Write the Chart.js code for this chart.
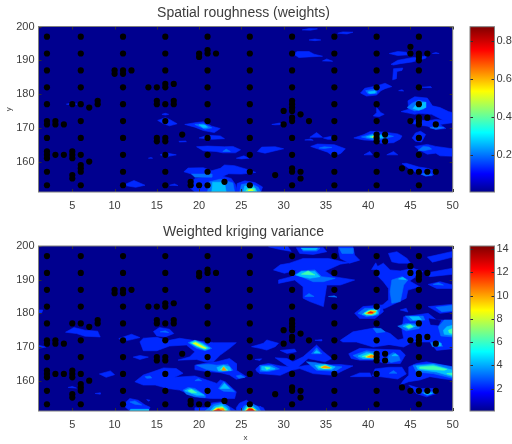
<!DOCTYPE html>
<html><head><meta charset="utf-8">
<script src="https://cdn.jsdelivr.net/npm/chart.js@4"></script>
<style>
html,body{margin:0;padding:0;background:#fff;width:512px;height:444px;overflow:hidden}
.box{position:absolute}
</style></head><body>
<div class="box" style="left:0;top:0;width:487px;height:222px"><canvas id="c1"></canvas></div>
<div class="box" style="left:460px;top:0;width:52px;height:222px"><canvas id="c2"></canvas></div>
<div class="box" style="left:0;top:222px;width:487px;height:222px"><canvas id="c3"></canvas></div>
<div class="box" style="left:460px;top:222px;width:52px;height:222px"><canvas id="c4"></canvas></div>
<script>
// sample sites as [x, y, y, y ...]
const sites=[
[2,197,192,187,182,177,172,171,167,163,162,161,157,153],[3,172,171,162],[4,171,162],
[5,177,163,162,161,156,155],[6,197,192,187,182,177,172,167,162,159,158,157,153],[7,176,160],[8,178,177],
[10,187,186],[11,197,192,187,186,182,177,172,167,162,157,153],[12,187],[14,182],[15,182,178,177,167,166],
[16,197,192,187,183,182,177,172,167,166,162,157,153],[17,183,178,177],[18,168],[19,154,153],[20,192,191,153],
[21,197,193,192,187,182,177,172,167,162,157,153],[22,192],[23,154],[26,197,192,187,182,177,172,167,162,157,153],
[29,156],[30,175,171],[31,197,192,187,182,178,177,176,175,173,172,167,162,158,157,153],[32,174,157,155],[33,172],
[36,197,192,187,182,177,172,167,162,157,153],[41,197,192,187,182,177,172,168,167,166,162,157,153],[42,168,166],
[44,158],[45,194,192,172,157],[46,197,192,191,190,187,182,177,173,172,171,167,162,157,153],[47,192,173,157],[48,171,157]];

// Contour regions of the weights field, one list per level, each region x,y,x,y...
const rough1=[
[4.3,177,5,177.4,5.6,177,5,176.7],[15.1,172.2,16,173,16.5,172.5,17.4,171.2,16.5,170.6,15.8,171.2],[15.6,174,16,174.3,16.4,174,16,173.8],
[18.3,171,19.5,171.5,20.5,171.8,21.5,170.5,22.5,169.8,21.8,168.6,20.5,169.2,19.5,170.2],
[20,167,21,167.8,22.5,167.6,23,166.8,21.5,166.6],[17.6,166,18.4,166.1,18.5,165.9,17.7,165.8],
[19.7,164.4,21,164.6,23,164.4,24,164.5,24.9,163.5,24.3,162.6,22.8,162.6,22,163,20.5,163.2],
[15.4,162,16,162.6,17.3,162,16,161.4],[14,161,14.3,161.2,14.5,161],[24.4,161,25.3,161.7,25.9,161,25,160.8],
[18.2,157,18.7,158.1,20.5,158.2,21.5,157.3,22.5,158,23,159,24.2,158.8,25.8,157.6,26.7,156.8,25,156.3,23.5,156.4,22.8,155.7,23.8,155,24.3,153.2,24.5,151,19.5,151,18.8,152.5,19.5,155,21,155.5,19.5,156],
[24.4,151,24.5,153.5,25.4,154.3,26.6,153.8,27.5,152.5,27.3,151],[11,153,12.3,154.4,13.6,153,12.5,152.4],[16.5,153,17.1,153.4,17.5,152.9],
[32.2,199,33,199.4,34,199.3,33.2,198.9],[36.4,198,37,198.4,38.2,198.3,37.5,197.8],[33,196,33.7,196.3,34.4,196,33.7,195.8],
[31.2,191.8,31.6,192.6,33,192.6,33.6,191.8,34.6,191.2,33,191,31.8,190.8],[34.6,189.8,35.1,190.4,35.8,189.7],
[42.5,192,43.5,192.6,44.5,192.4,44.7,191.6,43.5,191.4],[42.7,188.8,43.5,190,45,190.7,46.6,191.2,47,191.6,46.8,190.6,45.2,189.5,43.8,189,43,188.6],
[47.6,192,48,192.3,48.4,192],[42.9,184.2,43,187.5,44.1,187.7,44,187,43.4,186.7,43.3,184.5],
[39.1,180.3,39.6,181.7,41,182.4,42,183.2,42.8,182.2,42,181.6,41.5,181,41,179.7,39.8,179.4],[43.6,181,44,181.3,44.2,180.9],[46.3,182,47.4,182.2,47.5,181.9],
[43.9,174.8,44.8,175.5,44.7,178,45.5,179.2,47,178.8,47.6,176.5,48.5,176,49.5,174.8,50,174.5,50,172,49,172,48.7,172.5,47.5,174,46,174.3,45.5,174],
[44.9,171.5,45.7,172.5,47,172,48,172.5,50,172,50,171.5,48.5,171,49.2,169.8,48,169.5,47,170.5,46,170.8],
[41,176,41.5,174.5,41.9,174,41.3,173.3,40.6,173.5,41,174.5],[28.6,171,29.5,171.4,30,171,29,170.9],[33.1,167.2,33.9,168.6,34.6,167.2],[32.5,166.4,33.2,166.7,33.5,166.3],
[34.7,167,35.5,167.4,36.2,167.3,36.2,166.6,35.2,166.6],[38.3,167,39.5,168,40.3,169,42,168.7,43.5,168.2,44,167.6,43.8,166.7,43,165.6,41.5,165.4,41,166.2,39.5,166.4],
[26.9,163,27.4,164.3,29,164.4,30,163.8,29,163.2,27.8,162.5],[33.2,164.5,34,165.2,36,165,37.3,163.8,36.8,162.5,35.9,161.5,35.2,162.8,34,163.8],
[39.5,162,40.2,163,40.5,162],[42.2,162,43,163,43.5,162],[45.5,164.5,47,165.1,48,164.5,50,163.8,50,161.6,48.5,161.7,48,162.5,47,162.2,46,163.5],
[44,159.4,44.5,159.5,46,158.4,47,158,48.2,157,47.5,155.8,46.8,155.7,45.5,157,44.8,158],[45.2,167,45.6,168.5,46.2,169,46.8,168,46.3,165.8,45.6,166]];
const rough2=[
[19.5,171,20.5,171.2,21.5,170,20.7,169.6],[22.8,163,23.2,163.7,23.7,163],[19.1,156.3,21.5,156.3,21.5,155.4,19.5,155.4],
[21,151,21.2,154,22.5,154.8,24,153.7,24.2,151],[24.8,151,25,153.2,26,153.7,27,152.4,27.3,151],
[39.7,181,40.3,181.3,41,181.3,41,180.2,40,180],[44.6,176,45.2,177.3,46,178.2,46.8,177.5,46.6,175.6,45.5,175],[47.3,170,48,170.5,49,170,48,169.6],
[39.2,167.3,40.5,168.2,42,168,43,167.5,41.5,166.6,40.5,166.5],[34.2,164,34.8,164.4,35.7,164.2,34.8,163.9],[45.9,163.3,46.5,164.5,47.2,164.3,47.5,163.7,46.7,163.3],[46.3,156.3,47,156.7,47.6,156,46.8,155.8]];
const rough3=[
[20,170.9,20.7,170.8,21,170.2,20.5,170],[21.5,151,21.6,153.9,23,153.9,23.2,151],[25.2,151,25.4,152.8,26.4,152.9,26.8,151.4,26.8,151],
[40,180.6,40.8,180.9,40.8,180.3,40.2,180.2],[45.3,175.7,45.8,177.3,46.8,177.6,46.8,176,46,175.2],[39.8,167.3,40.5,167.9,41.5,167.8,42.2,167.3,41,166.8]];
const rough4=[[25.5,151.2,25.8,152.1,26.5,152.1,26.6,151.3],[40.2,167.3,40.8,167.7,41.3,167.5,41,166.9]];
const rough5=[[25.8,151.4,26.1,151.8,26.4,151.5],[40.5,167.3,41,167.6,41.2,167.1]];
const rough6=[[40.6,167.3,41,167.5,41.3,167.1,41,166.8]];
const rough7=[];

// Contour regions of the kriging variance field
const krig1=[
[1,181,1.5,181,1.4,180.2,1,180],[1,170.5,1.9,170,1,169.6],[4.2,174.4,5.2,175.8,6.5,175,8,174.7,8.3,173,6.5,173.2,5.5,174],
[10.5,172.5,12,173.8,13,172.8,12,172.2,11,171.7],[12.2,167,13,167.5,14,167,13,166.3],[8.2,162,9.5,162.9,10,161.8,9,161],[4.5,158,5,158.3,5.5,157.8],[7.7,156.2,8.3,156.4,8.3,156],
[14.6,174.6,15.3,175.8,16.5,175.3,17,174,16,173,15,173.3],
[13,171.6,13.4,172.6,15,172.9,16.3,171.9,17.7,172.6,19.5,171.9,21.7,171.3,24.4,171.3,23.6,169.6,22.5,167.6,21.7,165.6,20.7,165.6,19.7,166.3,17.5,166.1,18.9,167.1,19.5,168.6,18.5,170.6,16.5,170.3,15,168.9,13.4,168.9],
[19.5,164.6,20.9,165.3,22.1,165.6,23.6,166.6,24.4,165.1,24.4,163.1,25.6,161.2,24.4,160.4,23.6,161.7,22.5,162.4,20.9,162.7,19.5,163.3],
[12.4,159.7,13.4,161.7,14.6,162.7,15.8,163.8,17.3,163.6,18.1,162.2,17.1,161,19.5,161.4,20.3,160.7,22.1,159.2,22.5,160.2,23.1,159.7,24.4,156.7,24.2,154.7,21.5,154.7,20.1,155,19.1,155.7,17.7,157.2,16.3,157.7,14.8,158.7,13.4,158.7],
[11,152.8,11.8,154.7,12.8,154.2,13.6,152.8,14.2,152.1,14,151,11.8,151],[13.8,154.4,14.2,154.2,14,153.9],
[19.5,152,20.7,152,21.5,153.4,22.5,153.7,23.2,152.8,23.8,152,24.4,151,19.5,151],[24.4,152,24.8,153.4,25.6,154.2,26.4,152.8,27.6,152,27.8,151,24.4,151],
[26.2,170.1,27.6,171.1,28,172.1,29.4,171.1,29,170.1,28,169.1,27.2,169.6],[26.6,166.3,27.4,166.5,27.2,166],[29.6,169,31.3,169.4,31.5,168.6,30.4,168.1],
[27.2,164.6,28.2,165.1,29.6,164.4,30.6,164.1,29,166.8,30.4,166.6,31.1,165.6,32.3,167.1,33.9,170.6,34.7,168.6,35.7,166.6,34.9,165.6,33.9,166.1,32.9,166.6,31.7,164.1,32.7,164.6,36.7,164.8,38.2,164.4,37.1,163.1,35.9,161.6,33.5,162.1,31.9,163.6,30.9,163.1,29.6,161.6,27.2,162.1],
[26.7,163.5,27.2,164.6,27.2,162.1,26.8,162.8],[37.9,161.2,39,162.3,40.2,162.3,40.4,161.2],
[36.7,172,38.2,174.5,40.8,175.7,42.6,174,43.8,171.5,42.2,170.6,40.6,170,38.6,171.5,37,171.5],
[37.7,168,39,169.6,40.6,169.4,43.8,169.1,44.4,167.6,43.8,165.1,42,165.1,40.8,166.1,39,166.1,38,166.6],
[40.8,163.5,42.5,164,44,164,44.5,162,43.5,160.5,42,161,40.5,161.5],
[44.8,164.1,45.7,165.1,46.9,165.6,50,164.1,50,160.2,48.5,160.7,47.3,161.2,46.1,160.2,44.8,159.7,43.8,158.7,44.2,160.2,44.8,161.6],
[44.8,158.7,46.1,157.7,47.7,157.7,48.1,156.2,46.9,155.2,45.7,156.2],[27.2,152.5,27.8,151,27.2,151],
[28.2,199.8,30.5,199.8,30.9,198.4,29.5,199],[31.5,199.5,34.7,199.5,35.1,198.3,33.5,197.5,31.9,197.8],[36.5,199.8,38.2,199.8,38.4,197.3,39,195.8,37.8,194.9,36.7,196.3,36.5,198.3],
[28.8,192.9,29.6,194.4,30.7,194.9,32.3,196.3,35.3,196.3,37,195.3,38,195.1,36.7,194.6,36.1,193.9,34.9,192.6,35.9,190.9,38.4,189.9,36.7,188.4,35.1,188.4,34.7,182,33.1,183.5,32.3,184.5,32.3,187.9,31.3,189.9,29.4,188.9,29.4,189.9,30.9,190.9,31.5,192.9,30.1,191.9],
[42.4,197.8,43.4,198.3,44.6,196.3,45,194.9,43.6,194.9,42.8,195.3],
[41.1,193.9,41.8,194.9,42.6,192.9,43.8,192.6,45.3,193.4,46.5,192.4,44.9,189.6,46.1,187.9,44.7,186.9,44.5,184.5,43,182.7,42,181.5,40.8,181,41.8,182.7,42.4,184,42.4,187.4,41.8,189.4,41,191.4],
[47,196.7,50,198.4,50,196.7,47.6,195.2],[46.7,191.9,50,193.4,50,191.6,47.3,190.9],[47.1,188.6,48.5,189.4,50,188.4,50,187.4,48.1,187.4],[47.1,182,50,182.7,50,180.5,48.5,180],
[38.4,180,39.4,182,41.6,182.5,41.8,180.5,40.8,178.5,39,178.5],[43.8,181,44.5,181.5,44.7,180.4],
[41.8,171,44.2,172.5,44,175,44.2,179,47.1,180,48.1,178,50,178,50,169.5,48.1,169,47.3,171.5,45.3,171.5,44.2,170],
[40.4,193,40.9,195,41.3,193],[33.7,172,34.5,172.2,34.5,171.8]];
const krig2=[
[15.4,174.5,16,174.8,16.4,174.3],[18.7,171.3,19.5,172,20.5,171.3,21.5,169.6,20.7,168.9,19.7,169.6],
[19.7,164.6,21.1,164.9,22.1,164.6,23.4,164.9,24,163.1,22.5,162.6,20.9,163.3],[24.4,161.4,24.9,161.7,25.4,161,24.7,160.7],[19.5,160,19.9,160.6,20.3,160],
[18.1,157.2,18.7,158,19.5,157.7,20.7,155.7,20.7,155,19.5,155.2,18.5,156],[22.3,157.7,22.9,159.7,23.8,157.7,24.2,156.7,22.9,156.9],[13.6,161.2,14.2,161.4,14.4,160.8,13.8,160.7],
[11.8,153.7,12.4,154,13.2,152.8,12.4,153],[20.7,151,21.7,153,22.7,153.5,23.5,152.3,23.7,151],[25,151,25.3,152.5,26.2,153.3,27,152.2,27.3,151],
[27.2,164.5,28.6,164.6,29.5,163.5,28.2,162.7,27.2,162.8],[33.3,168,33.9,169.8,34.5,168],[32.7,165.6,33.7,165.4,35.9,164.4,36.9,164.1,36.1,162.8,33.9,163.1],
[40.6,175.5,41.5,175.5,42,174.5,41,174.2],[38.2,167.5,39.8,168.9,41,168.5,41,166.3,39,166.4],[42.4,167.5,43,168.4,43.6,167.5,43.8,166,42.7,165.4,42.3,166],
[42.5,162.2,43,163,43.4,162.2],[45.3,164.6,47.7,165.1,50,164.1,50,160.7,47.7,162.1,45.7,162.6],[46.3,156.5,47,157,47.9,156.5,47,155.6],
[32.1,199.3,34.3,199.3,33.9,198.5,32.3,198.5],[36.6,199.3,38.2,199.3,38.2,197.8,36.9,197.8],
[31.3,191.4,32.1,192.6,33.7,192.9,34.5,190.9,36.1,190.4,34.7,189.4,33.5,189.4,32.1,190.9],[32.5,185,33,185.9,33.6,185],[35.3,185,36,185.2,36.3,184.8],
[42.8,189.9,44,190.9,44.7,189.9,44.2,188.4,43.8,183.5,42.8,183,42.6,186.4],[47.7,188.6,48.3,189.1,48.9,188.4],[48,181.8,50,182.4,50,180.8,48.7,180.5],
[38.8,180,39.6,181.5,41.4,181.5,41.2,179.5,39.8,179],[44.4,179.2,46.5,179.2,46.7,178,45,177.7],[43.5,176.2,44.5,177,46,176.8,46,175.5,44.5,174.8],
[48.3,176,49,178,50,178,50,173,48.6,173.3],[47.4,171.3,48.5,171.5,48.8,170.2,47.6,170.1]];
const krig3=[
[18.9,171.3,19.5,171.9,20.3,171.1,21.3,169.6,20.7,169.1,19.7,170.1],[22.1,163.9,22.9,164.6,23.6,164.1,23.8,163,22.3,162.9],[18.3,157,18.9,157.7,19.7,157,20.6,155.7,19.7,155.7],
[22.5,157.7,23,159.2,23.6,157.7],[11.9,151.5,14,151.5,14,151,11.8,151],[21.3,151,21.8,152.4,22.7,153,23.3,152,23.5,151],[25.2,151,25.6,152.6,26.4,152.4,27,151],
[27.4,164.2,28.3,164.3,29,163.5,28,163,27.4,163.2],[33.6,168.2,33.9,169,34.3,168.2],[33.7,164.6,34.9,164.9,36.1,164.1,35.7,163.3,34.1,163.4],
[38.8,167.3,39.8,168.4,40.8,168,40.8,166.6,39.4,166.6],[42.8,167.4,43.2,168,43.5,167.4],[45.7,164.4,47.7,164.8,50,163.1,50,161.2,48.1,162.6,45.9,163.3],[46.6,156.3,47.1,156.6,47.6,156.2,47,155.9],
[32.1,199.3,34,199.3,33.8,198.9,32.4,198.9],[31.5,191.4,32.1,192.4,33.7,192.4,34.3,190.9,33.1,190.4,32.1,190.9],[43.6,190.2,44.1,190.7,44.5,190],
[39.3,179.7,40,181,41,181.2,41.2,180,40.5,179.3],[44.9,179,46,179,46.3,178.2,45.3,178],[44.1,176.2,44.8,176.8,45.6,176.2,44.8,175.3],[48.9,175,49.3,176,50,176.5,50,173.5,49,173.8],[47.6,171,48.5,171.2,48.6,170.4,47.8,170.3]];
const krig4=[
[19.1,171.2,19.6,171.6,20.2,170.9,21,169.7,20.6,169.4,19.7,170.3],[22.5,163.3,22.9,164.3,23.4,163.1],[18.7,157,19.1,157.4,19.7,156.4,19.1,156.4],[32.1,191.6,32.9,192.6,33.7,191.4],
[21.5,151,22,152,22.7,152.4,23.2,151.5,23.3,151],[25.4,151,25.7,152.2,26.3,152,26.8,151],[27.8,164,28.4,163.8,28,163.3],[34.1,164.1,34.9,164.6,35.7,163.8,34.7,163.6],
[39.3,167.2,40.2,168,40.8,167.4,40.4,166.9],[46.1,164.1,47.7,164.4,49.3,163.4,49,163.1,47.3,163.3,46.1,163.6],[49.3,162.1,50,162.3,50,161.6],
[39.5,180,40.2,180.9,41,181,40.9,179.8,39.8,179.5],[44.5,176.1,45,176.6,45.3,176,44.8,175.6],[49.5,175,50,175.5,50,174,49.6,174.2]];
const krig5=[[19.3,171.1,19.6,171.3,20.1,170.6,20.8,169.6,20.3,169.9],[21.6,151,22,151.8,22.8,152,23.1,151],[25.5,151,25.8,151.9,26.3,151.9,26.7,151.2],[34.4,164,34.9,164.4,35.5,163.8,34.8,163.7],[39.7,167,40.3,167.7,40.9,167.3,40.4,166.9],[39.7,180,40.3,180.8,40.9,180.6,40.4,179.7]];
const krig6=[[22.7,163.1,22.9,164.1,23.2,163.1],[21.7,151,22.2,151.7,22.9,151.7,23,151],[25.6,151,25.9,151.8,26.3,151.7,26.6,151],[34.5,163.9,34.9,164.4,35.5,163.8],[39.9,167,40.4,167.6,41,167.2,40.5,166.8],[39.8,180,40.3,180.7,40.9,180.5,40.4,179.8]];
const krig7=[[21.8,151,22.3,151.5,22.7,151],[25.6,151,25.9,151.7,26.3,151.6,26.5,151],[40,180.1,40.3,180.5,40.6,180.1]];
// Low pocket inside the upper right variance region
const krigLow=[[47.2,178.4,48.6,177.9,48.3,176.5,47.4,176.7]];

const xTicksStep=5, yTicksStep=10;
const weightsRange=[0.002,0.878], varianceRange=[0.08,14.26];
const levelColors=['#00008f','#0028ff','#0070ff','#00c0ff','#40ffb0','#f0ff10','#ff9000','#f01000'];
const jetStops=[[0,'#00008f'],[0.11,'#0000ff'],[0.36,'#00ffff'],[0.61,'#ffff00'],[0.86,'#ff0000'],[1,'#800000']];
const textColor='#3c3c3c', frameColor='#7f7f7f', tickColor='#303030';

Chart.defaults.font.family='"Liberation Sans",Arial,sans-serif';
Chart.defaults.color=textColor;

const framePlugin={id:'frame',
 beforeDraw(c,a,o){if(!o.fill)return;const k=c.chartArea,g=c.ctx;g.save();g.fillStyle=o.fill;g.fillRect(k.left,k.top,k.width,k.height);g.restore();},
 afterDraw(c){const k=c.chartArea,g=c.ctx;g.save();g.strokeStyle=tickColor;g.lineWidth=1;g.beginPath();
  const L=3;
  if(c.scales.x.type==='linear')c.scales.x.ticks.forEach(t=>{const p=Math.round(c.scales.x.getPixelForValue(t.value))+.5;g.moveTo(p,k.bottom);g.lineTo(p,k.bottom-L);g.moveTo(p,k.top);g.lineTo(p,k.top+L);});
  c.scales.y.ticks.forEach(t=>{const p=Math.round(c.scales.y.getPixelForValue(t.value))+.5;g.moveTo(k.left,p);g.lineTo(k.left+L,p);g.moveTo(k.right,p);g.lineTo(k.right-L,p);});
  g.stroke();g.strokeStyle=frameColor;g.strokeRect(k.left,k.top,k.width,k.height);g.restore();}};

function region(flat,color,order){const pts=[];for(let i=0;i<flat.length;i+=2)pts.push({x:flat[i],y:flat[i+1]});pts.push({x:flat[0],y:flat[1]});
 return {type:'scatter',data:pts,showLine:true,fill:'shape',backgroundColor:color,borderColor:color,borderWidth:0.6,pointRadius:0,tension:0,order};}

function dotData(){const d=[];sites.forEach(s=>s.slice(1).forEach(y=>d.push({x:s[0],y})));return d;}

function field(id,layers,title,opts){
 const ds=[];let ord=1000;
 layers.forEach(([list,color])=>list.forEach(f=>ds.push(region(f,color,ord--))));
 ds.push({type:'scatter',data:dotData(),pointRadius:3.1,pointBackgroundColor:'#000',pointBorderWidth:0,showLine:false,order:0});
 new Chart(document.getElementById(id),{type:'scatter',data:{datasets:ds},plugins:[framePlugin],options:{
  responsive:true,maintainAspectRatio:false,animation:false,events:[],
  layout:{padding:0},
  plugins:{legend:{display:false},tooltip:{enabled:false},frame:{fill:levelColors[0]},
   title:{display:true,text:title,color:textColor,font:{size:14,weight:'normal',lineHeight:1.2},padding:{top:opts.tTop,bottom:opts.tBottom}}},
  scales:{
   x:{type:'linear',min:1,max:50,grid:{display:false,drawTicks:false},border:{display:false},
     ticks:{stepSize:xTicksStep,includeBounds:false,maxRotation:0,autoSkip:false,padding:7,font:{size:11},color:textColor},
     title:{display:!!opts.xLabel,text:opts.xLabel||'',font:{size:8},color:textColor,padding:{top:4,bottom:1}},
     afterFit(s){s.height=opts.bottom;s.paddingLeft=0;s.paddingRight=0;}},
   y:{type:'linear',min:151,max:200,grid:{display:false,drawTicks:false},border:{display:false},
     ticks:{stepSize:yTicksStep,includeBounds:false,autoSkip:false,padding:4,font:{size:11},color:textColor},
     title:{display:!!opts.yLabel,text:opts.yLabel||'',font:{size:8},color:textColor,padding:{top:4,bottom:0}},
     afterFit(s){s.width=38.5;s.paddingTop=0;s.paddingBottom=0;}},
   gutter:{type:'linear',position:'right',display:true,grid:{display:false,drawTicks:false},border:{display:false},ticks:{display:false},
     afterFit(s){s.width=34.3;}}
  }}});
}

function jetFill(ctx){const c=ctx.chart,k=c.chartArea;if(!k)return '#00f';
 const g=c.ctx.createLinearGradient(0,k.bottom,0,k.top);jetStops.forEach(s=>g.addColorStop(s[0],s[1]));return g;}

function colorbar(id,range,step,top,bottom){
 new Chart(document.getElementById(id),{type:'bar',data:{labels:['scale'],datasets:[{data:[[range[0],range[1]]],backgroundColor:jetFill,barPercentage:1,categoryPercentage:1,borderWidth:0}]},plugins:[framePlugin],options:{
  responsive:true,maintainAspectRatio:false,animation:false,events:[],
  layout:{padding:{left:10,right:0,top,bottom}},
  plugins:{legend:{display:false},tooltip:{enabled:false},title:{display:false}},
  scales:{x:{display:false},
   y:{type:'linear',position:'right',min:range[0],max:range[1],grid:{display:false,drawTicks:false},border:{display:false},
     ticks:{stepSize:step,includeBounds:false,autoSkip:false,padding:2,font:{size:11},color:textColor},
     afterFit(s){s.width=17.5;s.paddingTop=0;s.paddingBottom=0;}}}}});
}

const L=levelColors;
field('c1',[[rough1,L[1]],[rough2,L[2]],[rough3,L[3]],[rough4,L[4]],[rough5,L[5]],[rough6,L[6]],[rough7,L[7]]],'Spatial roughness (weights)',{tTop:5,tBottom:4.7,bottom:30,yLabel:'y'});
field('c3',[[krig1,L[1]],[krigLow,L[0]],[krig2,L[2]],[krig3,L[3]],[krig4,L[4]],[krig5,L[5]],[krig6,L[6]],[krig7,L[7]]],'Weighted kriging variance',{tTop:2,tBottom:5.2,bottom:33,xLabel:'x'});
colorbar('c2',weightsRange,0.2,26.7,30);
colorbar('c4',varianceRange,2,24,33);
</script></body></html>
